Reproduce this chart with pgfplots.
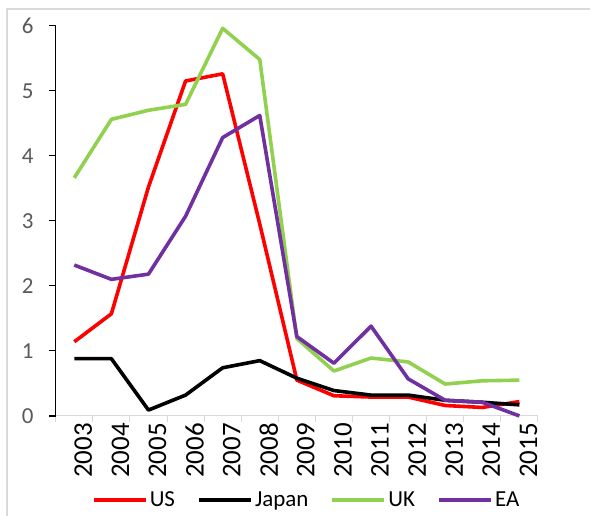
\documentclass[border=0pt]{standalone}
\usepackage{fontspec}
\setmainfont{Carlito}
\usepackage{pgfplots}
\pgfplotsset{compat=1.18}
\usepackage{pgfplotstable}

\definecolor{usred}{HTML}{FF0000}
\definecolor{ukgreen}{HTML}{92D050}
\definecolor{eapurple}{HTML}{7030A0}
\definecolor{axisgray}{HTML}{D9D9D9}
\definecolor{labelgray}{HTML}{595959}

% year index 0 = 2003 ... 12 = 2015
\pgfplotstableread{
idx US   Japan UK   EA
0   1.14 0.88  3.66 2.32
1   1.57 0.88  4.56 2.10
2   3.52 0.09  4.70 2.18
3   5.15 0.32  4.79 3.07
4   5.26 0.74  5.96 4.28
5   2.95 0.85  5.48 4.62
6   0.55 0.58  1.19 1.22
7   0.31 0.39  0.69 0.81
8   0.29 0.32  0.89 1.38
9   0.29 0.32  0.83 0.57
10  0.16 0.24  0.49 0.24
11  0.13 0.21  0.54 0.21
12  0.22 0.17  0.55 0.00
}\rates

\begin{document}
\begin{tikzpicture}
\begin{axis}[
    scale only axis,
    width=482bp, height=390bp,
    xmin=-0.5, xmax=12.5,
    ymin=0, ymax=6,
    clip=false,
    axis x line*=bottom,
    axis y line*=left,
    x axis line style={draw=axisgray, line width=1bp, -},
    y axis line style={black, line width=1.2bp, -},
    tick align=outside,
    xtick={0,...,12},
    xticklabels={2003,2004,2005,2006,2007,2008,2009,2010,2011,2012,2013,2014,2015},
    every major x tick/.append style={draw=none},
    minor xtick={-0.5,0.5,...,12.5},
    every minor x tick/.append style={draw=axisgray, line width=1bp},
    minor tick length=6bp,
    ytick={0,1,...,6},
    every major y tick/.append style={black, line width=1.2bp},
    major tick length=7bp,
    /pgf/number format/assume math mode=true,
    yticklabel style={font=\fontsize{23}{26}\selectfont, text=labelgray, inner sep=0pt, xshift=-15bp},
    xticklabel style={font=\fontsize{27}{30}\selectfont, rotate=90, anchor=east, inner sep=0pt, yshift=-9bp},
    legend style={at={(0.52,-0.215)}, anchor=center, draw=none, fill=none,
      legend columns=-1, font=\fontsize{23}{26}\selectfont,
      /tikz/every even column/.append style={column sep=20bp}},
    legend image code/.code={\draw[#1, line width=4bp] (0bp,0bp) -- (52bp,0bp);},
    every axis plot/.append style={line width=3.6bp, line join=round},
]
\coordinate (sw) at (rel axis cs:0,0);
\coordinate (ne) at (rel axis cs:1,1);
\addplot[usred] table[x=idx, y=US] {\rates};
\addlegendentry{US}
\addplot[black] table[x=idx, y=Japan] {\rates};
\addlegendentry{Japan}
\addplot[ukgreen] table[x=idx, y=UK] {\rates};
\addlegendentry{UK}
\addplot[eapurple] table[x=idx, y=EA] {\rates};
\addlegendentry{EA}
\end{axis}
\pgfresetboundingbox
\path[use as bounding box] ([shift={(-55.7bp,-100bp)}]sw) rectangle ([shift={(52bp,25.7bp)}]ne);
\draw[axisgray, line width=1.5bp] ([shift={(-48.7bp,-100bp)}]sw) -- ([shift={(-48.7bp,16.7bp)}]sw |- ne) -- ([shift={(52bp,16.7bp)}]ne);
\end{tikzpicture}
\end{document}
